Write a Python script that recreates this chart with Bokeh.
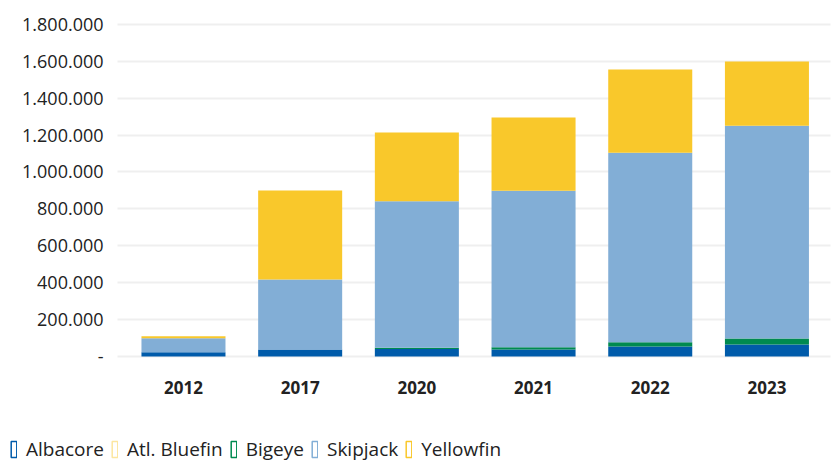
from bokeh.plotting import figure
from bokeh.models import ColumnDataSource, Range1d, FixedTicker, Legend, LegendItem, Grid
from bokeh.core.properties import value
from bokeh.embed import file_html
from bokeh.resources import INLINE

years = ["2012", "2017", "2020", "2021", "2022", "2023"]
albacore = [23000, 38000, 40000, 38000, 54000, 65000]
atl_bluefin = [0, 0, 0, 0, 0, 0]
bigeye = [0, 0, 7000, 12000, 23000, 33000]
skipjack = [76000, 379000, 795000, 848000, 1027000, 1152000]
yellowfin = [11000, 483000, 372000, 397000, 452000, 349000]

series = ["Albacore", "Atl. Bluefin", "Bigeye", "Skipjack", "Yellowfin"]
colors = ["#005BAA", "#FCE6A0", "#008A50", "#82AED6", "#F9C82B"]

y_ticks = [0, 200000, 400000, 600000, 800000, 1000000, 1200000, 1400000, 1600000, 1800000]
y_tick_labels = ["-", "200.000", "400.000", "600.000", "800.000", "1.000.000",
                 "1.200.000", "1.400.000", "1.600.000", "1.800.000"]

x_pos = list(range(len(years)))
source = ColumnDataSource(data={
    "x": x_pos,
    "Albacore": albacore,
    "Atl. Bluefin": atl_bluefin,
    "Bigeye": bigeye,
    "Skipjack": skipjack,
    "Yellowfin": yellowfin,
})

TXT = "#222222"
# frame covers the whole figure; ranges chosen so the plot area sits where the reference has it
X0, X1 = -1.568, 5.579
Y0, Y1 = -579900, 1929500
GRID_X0, GRID_X1 = -0.565, 5.544
YEAR_LABEL_Y = -168000

p = figure(width=834, height=463, x_range=Range1d(X0, X1), y_range=Range1d(Y0, Y1),
           output_backend="svg", toolbar_location=None,
           x_axis_location=None, y_axis_location=None, min_border=0)
p.min_border_left = 0
p.min_border_right = 0
p.min_border_top = 0
p.min_border_bottom = 0
p.outline_line_color = None
p.grid.visible = False

grid = Grid(dimension=1, ticker=FixedTicker(ticks=y_ticks),
            cross_bounds=(GRID_X0, GRID_X1), grid_line_color="#EFEFEF", grid_line_width=2)
p.add_layout(grid, "center")

p.vbar_stack(series, x="x", width=0.72, fill_color=colors, line_color=None, source=source)

# y tick labels
p.text(x=[GRID_X0 - 0.12] * len(y_ticks), y=y_ticks, text=y_tick_labels,
       text_align="right", text_baseline="middle", text_font=value("Open Sans"),
       text_font_size="18px", text_color=TXT)

# category labels
p.text(x=x_pos, y=[YEAR_LABEL_Y] * len(years), text=years,
       text_align="center", text_baseline="middle", text_font=value("Open Sans"),
       text_font_size="17px", text_font_style="bold", text_color=TXT)

items = []
for name, c in zip(series, colors):
    r = p.rect(x=[-100], y=[-1e8], width=0.1, height=1, fill_alpha=0,
               line_color=c, line_width=1.5)
    items.append(LegendItem(label=name, renderers=[r]))
legend = Legend(items=items, location=(10, 1), orientation="horizontal",
                glyph_width=7, glyph_height=20, label_standoff=9, spacing=7,
                padding=0, margin=0, border_line_color=None, background_fill_alpha=0,
                label_text_font="Open Sans", label_text_font_size="19px",
                label_text_color=TXT, label_height=20)
p.add_layout(legend, "center")

open("out.html", "w").write(file_html(p, INLINE))
